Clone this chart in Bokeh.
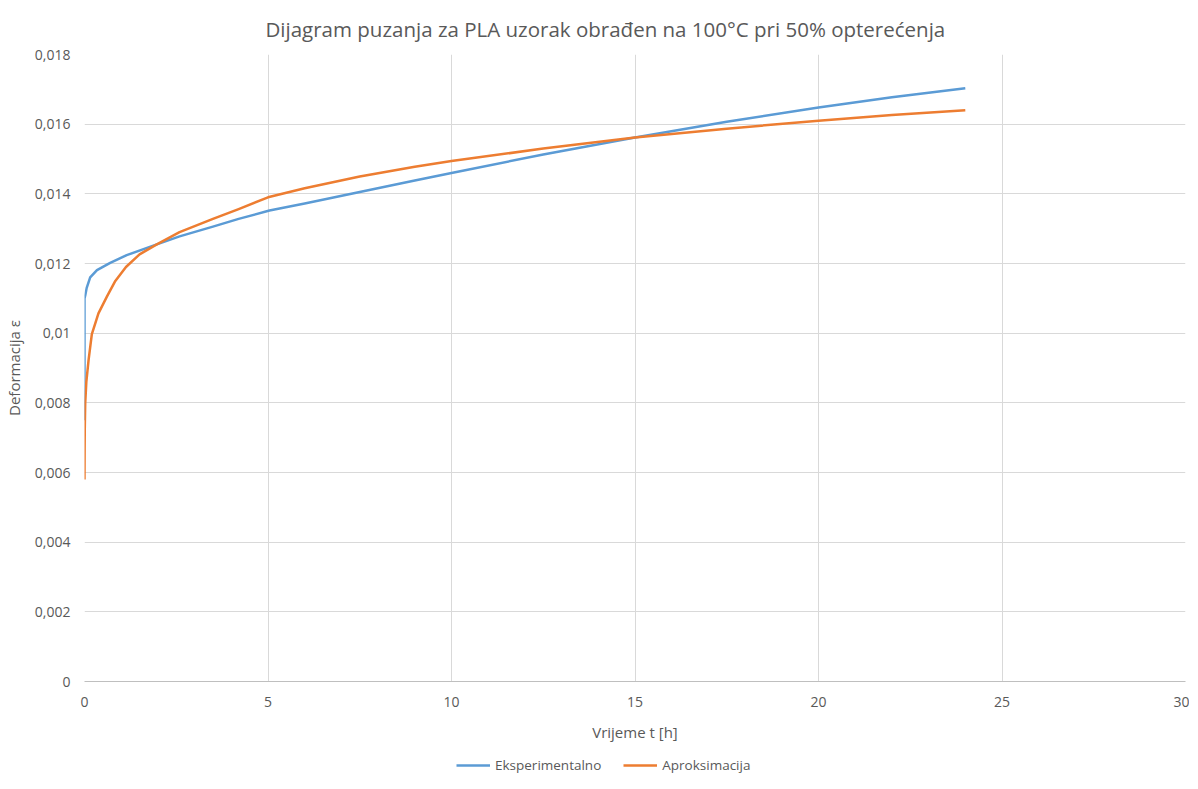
from bokeh.plotting import figure
from bokeh.layouts import column
from bokeh.models import FixedTicker, Legend, LegendItem, ColumnDataSource
from bokeh.embed import file_html
from bokeh.resources import INLINE

# Data
t_exp = [0, 0, 0.02, 0.06, 0.155, 0.34, 0.7, 1.15, 1.97, 2.59, 3.5, 4.2, 5.04,
         6.0, 7.5, 9.0, 10.0, 12.5, 15.0, 17.5, 20.0, 22.0, 24.0]
eps_exp = [0.0075, 0.0110, 0.01108, 0.01130, 0.01160, 0.01181, 0.01202, 0.01224,
           0.01255, 0.01278, 0.01306, 0.01328, 0.01352, 0.01372, 0.01405, 0.01438,
           0.01460, 0.01513, 0.01562, 0.01607, 0.01648, 0.01677, 0.01703]

t_apr = [0, 0.003, 0.008, 0.02, 0.05, 0.11, 0.2, 0.38, 0.61, 0.84, 1.13, 1.5,
         1.97, 2.59, 3.5, 4.2, 5.0, 6.0, 7.5, 9.0, 10.0, 12.5, 15.0, 17.5, 20.0,
         22.0, 24.0]
eps_apr = [0.00580, 0.0066, 0.0073, 0.0080, 0.0086, 0.00922, 0.00997, 0.01057,
           0.01105, 0.01150, 0.01190, 0.01226, 0.01255, 0.01290, 0.01328, 0.01356,
           0.01390, 0.01416, 0.01450, 0.01478, 0.01494, 0.01530, 0.01562, 0.01587,
           0.01610, 0.01626, 0.01640]

x_ticks = [0, 5, 10, 15, 20, 25, 30]
y_ticks = [0, 0.002, 0.004, 0.006, 0.008, 0.01, 0.012, 0.014, 0.016, 0.018]
y_labels = ["0", "0,002", "0,004", "0,006", "0,008", "0,01", "0,012", "0,014", "0,016", "0,018"]

title_text = "Dijagram puzanja za PLA uzorak obrađen na 100°C pri 50% opterećenja"
x_label = "Vrijeme t [h]"
y_label = "Deformacija ε"
series_names = ["Eksperimentalno", "Aproksimacija"]
colors = ["#5B9BD5", "#ED7D31"]

FONT = "Open Sans"
GREY = "#595959"

p = figure(frame_width=1101, frame_height=627, output_backend="svg", toolbar_location=None,
           x_range=(0, 30), y_range=(0, 0.018),
           min_border_left=77, min_border_right=4, min_border_top=53, min_border_bottom=68)

p.title.text = title_text
p.title.align = "left"
p.title.text_font = FONT
p.title.text_font_size = "20.5px"
p.title.text_font_style = "normal"
p.title.text_color = GREY
p.title.offset = 181
p.title.standoff = 24

p.outline_line_color = None
p.background_fill_color = "white"
p.border_fill_color = "white"

p.xgrid.grid_line_color = "#D9D9D9"
p.ygrid.grid_line_color = "#D9D9D9"
p.xgrid.ticker = FixedTicker(ticks=x_ticks)
p.ygrid.ticker = FixedTicker(ticks=y_ticks)

p.xaxis.ticker = FixedTicker(ticks=x_ticks)
p.yaxis.ticker = FixedTicker(ticks=y_ticks)
p.yaxis.major_label_overrides = {v: l for v, l in zip(y_ticks, y_labels)}
p.xaxis.major_label_overrides = {v: str(v) for v in x_ticks}

for ax in (p.xaxis, p.yaxis):
    ax.major_tick_line_color = None
    ax.minor_tick_line_color = None
    ax.major_label_text_font = FONT
    ax.major_label_text_font_size = "14px"
    ax.major_label_text_color = GREY
    ax.axis_label_text_font = FONT
    ax.axis_label_text_font_size = "15px"
    ax.axis_label_text_font_style = "normal"
    ax.axis_label_text_color = GREY

p.xaxis.axis_line_color = "#BFBFBF"
p.yaxis.axis_line_color = None
p.xaxis.major_label_standoff = 9
p.yaxis.major_label_standoff = 8
p.xaxis.axis_label = x_label
p.yaxis.axis_label = y_label
p.xaxis.axis_label_standoff = 12
p.yaxis.axis_label_standoff = 8

src_e = ColumnDataSource(dict(t=t_exp, eps=eps_exp))
src_a = ColumnDataSource(dict(t=t_apr, eps=eps_apr))
p.line("t", "eps", source=src_e, line_color=colors[0], line_width=2.5, line_join="round")
p.line("t", "eps", source=src_a, line_color=colors[1], line_width=2.5, line_join="round")

# Legend strip below the chart (its lines lie outside the strip's visible range)
leg = figure(width=1182, height=25, output_backend="svg", toolbar_location=None,
             x_range=(0, 1), y_range=(0, 1),
             min_border_left=0, min_border_right=0, min_border_top=0, min_border_bottom=0)
leg.axis.visible = False
leg.grid.visible = False
leg.outline_line_color = None
leg.border_fill_color = "white"
lr1 = leg.line(x=[5, 6], y=[5, 5], line_color=colors[0], line_width=2.5)
lr2 = leg.line(x=[5, 6], y=[5, 5], line_color=colors[1], line_width=2.5)
legend = Legend(items=[LegendItem(label=series_names[0], renderers=[lr1]),
                       LegendItem(label=series_names[1], renderers=[lr2])],
                orientation="horizontal", location=(372, 0),
                label_text_font=FONT, label_text_font_size="13.5px", label_text_color=GREY,
                label_height=16, glyph_height=16,
                border_line_color=None, background_fill_alpha=0,
                glyph_width=34, label_standoff=5, spacing=22, padding=0, margin=0)
leg.add_layout(legend)

layout = column(p, leg, spacing=0)
open("out.html", "w").write(file_html(layout, INLINE))
